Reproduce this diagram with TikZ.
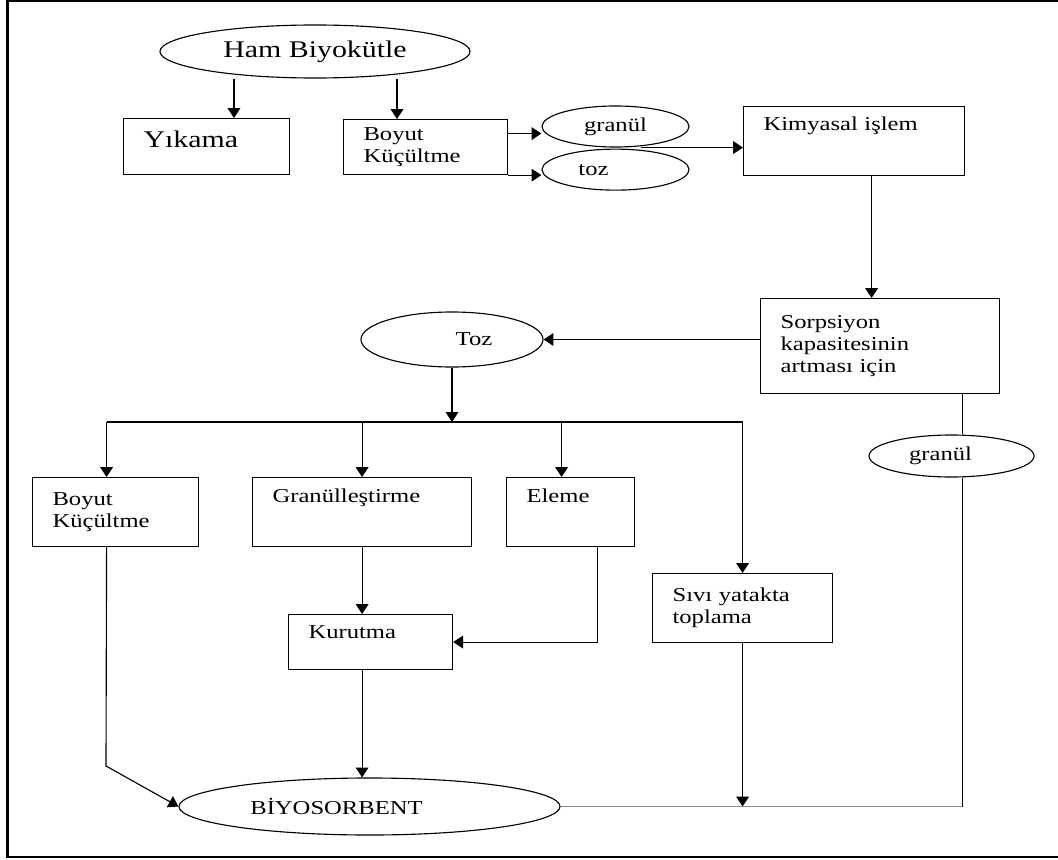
\documentclass[tikz,border=0pt]{standalone}
\usepackage{fontspec}
\setmainfont{Liberation Serif}[FakeStretch=1.25]
\usetikzlibrary{arrows.meta, positioning, shapes.geometric}

\begin{document}
\begin{tikzpicture}[x=0.025cm, y=-0.025cm,
    kasten/.style={rectangle, draw=black, line width=0.8pt, anchor=north west, inner xsep=0.5cm, inner ysep=0pt, align=left, font=\fontsize{14}{15.6}\selectfont},
    oval/.style={ellipse, draw=black, line width=0.8pt, inner sep=0pt, font=\fontsize{14}{15.6}\selectfont},
    pfeil/.style={-{Triangle[length=7pt,width=9pt]}, line width=0.8pt},
    linie/.style={line width=0.8pt}]

        \useasboundingbox (0,0) rectangle (1058,860);

        % Rahmen
        \draw[line width=0.065cm] (1070,1.2) -- (7.3,1.2) -- (7.3,856.8) -- (1070,856.8);

        % Obere Reihe
        \node[oval, minimum width=7.75cm, minimum height=1.325cm, font=\fontsize{17}{20}\selectfont] (ham) at (315,51.5) {Ham Biyokütle};
        \node[kasten, text width=3.15cm, text height=0.725cm, text depth=0.675cm, font=\fontsize{17}{20}\selectfont] (yikama) at (123,118) {Yıkama};
        \node[kasten, text width=3.1cm, minimum height=1.375cm] (boyuta) at (343,119) {Boyut\\Küçültme};
        \node[oval, minimum width=3.675cm, minimum height=1.025cm] (granul) at (615.5,126.5) {granül};
        \node[oval, minimum width=3.675cm, minimum height=1.025cm, below=0.025cm of granul] (toz) {toz\hspace*{1.1cm}};
        \node[kasten, text width=4.525cm, text height=0.6cm, text depth=1.125cm] (kimya) at (743,106) {Kimyasal işlem};

        % Mittlere Reihe
        \node[kasten, text width=4.975cm, minimum height=2.375cm] (sorp) at (760,298) {Sorpsiyon\\kapasitesinin\\artması için};
        \node[oval, minimum width=4.55cm, minimum height=1.375cm] (tozm) at (452,339.5) {\hspace*{1.1cm}Toz};
        \node[oval, minimum width=4.125cm, minimum height=1.05cm] (granulc) at (951.5,456) {granül\hspace*{0.55cm}};

        % Untere Reihe
        \node[kasten, text width=3.15cm, minimum height=1.725cm] (boyutb) at (32,477) {Boyut\\Küçültme};
        \node[kasten, text width=4.475cm, text height=0.625cm, text depth=1.1cm] (granulb) at (252,477) {Granülleştirme};
        \node[kasten, text width=2.2cm, text height=0.625cm, text depth=1.1cm] (eleme) at (506,477) {Eleme};
        \node[kasten, text width=3.5cm, minimum height=1.725cm] (sivi) at (652,573) {Sıvı yatakta\\toplama};
        \node[kasten, text width=3.1cm, text height=0.6cm, text depth=0.775cm] (kurutma) at (288,614) {Kurutma};
        \node[oval, minimum width=9.525cm, minimum height=1.425cm] (bio) at (369.5,806.5) {BİYOSORBENT\hspace*{1.65cm}};

        % Hilfspunkte
        \coordinate (hamL) at ([xshift=-2.025cm]ham.south);
        \coordinate (hamR) at ([xshift=2.05cm]ham.south);
        \coordinate (boyutO) at ([yshift=0.3375cm]boyuta.east);
        \coordinate (zwischen) at ([xshift=0.625cm]granul.south);
        \coordinate (kimyaU) at ([xshift=0.4375cm]kimya.south);
        \coordinate (verteiler) at (452,422);
        \coordinate (astA) at ([xshift=-0.225cm]boyutb.north);
        \coordinate (astC) at ([xshift=-0.225cm]eleme.north);
        \coordinate (knick) at (106,766);
        \coordinate (rechts) at ([xshift=-0.95cm]sorp.south east);

        % Pfeile oben
        \draw[pfeil] (hamL) -- (hamL |- yikama.north);
        \draw[pfeil] (hamR) -- (hamR |- boyuta.north);
        \draw[pfeil] (boyutO) -- (boyutO -| granul.west);
        \draw[pfeil] (boyuta.south east) -- (boyuta.south east -| toz.west);
        \draw[pfeil] (zwischen) -- (zwischen -| kimya.west);
        \draw[pfeil] (kimyaU) -- (kimyaU |- sorp.north);
        \draw[pfeil] (sorp.west |- tozm.east) -- (tozm.east);

        % Verteilung
        \draw[pfeil] (tozm.south) -- (verteiler);
        \draw[linie] (astA |- verteiler) -- (sivi.north |- verteiler);
        \draw[pfeil] (astA |- verteiler) -- (astA);
        \draw[pfeil] (granulb.north |- verteiler) -- (granulb.north);
        \draw[pfeil] (astC |- verteiler) -- (astC);
        \draw[pfeil] (sivi.north |- verteiler) -- (sivi.north);

        % Pfeile unten
        \draw[pfeil] (granulb.south) -- (granulb.south |- kurutma.north);
        \draw[pfeil] ([xshift=0.675cm]eleme.south) |- (kurutma.east);
        \draw[pfeil] (kurutma.south -| granulb.south) -- (granulb.south |- bio.north);
        \draw[pfeil] (astA |- boyutb.south) -- (knick) -- (bio.west);
        \draw[pfeil] (sivi.south) -- (sivi.south |- bio.east);

        % Rechter Zweig
        \draw[linie] (rechts) -- (rechts |- granulc.north);
        \draw[linie] (rechts |- granulc.south) -- (rechts |- bio.east);
        \draw[linie, black!45] (bio.east) -- (rechts |- bio.east);

\end{tikzpicture}
\end{document}
